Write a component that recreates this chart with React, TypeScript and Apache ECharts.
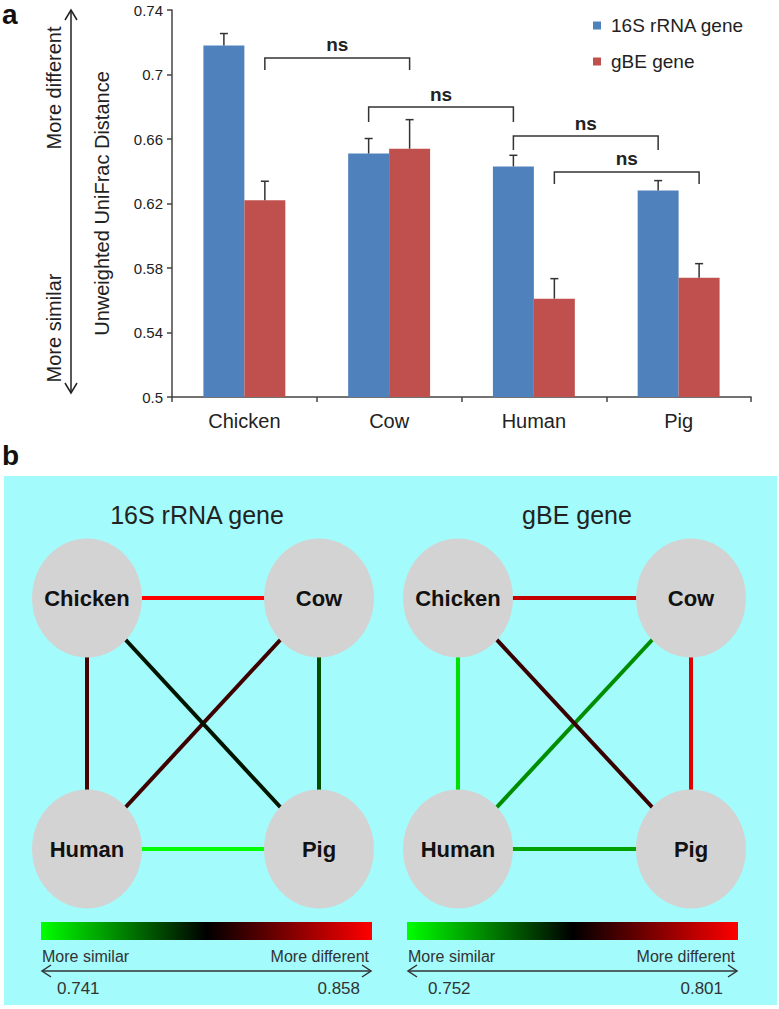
import React, { useEffect, useRef } from "react";
import * as echarts from "echarts";

// ---------- Panel a data ----------
const categories = ["Chicken", "Cow", "Human", "Pig"];
const seriesNames = ["16S rRNA gene", "gBE gene"];
const values16S = [0.718, 0.651, 0.643, 0.628];
const errors16S = [0.0074, 0.0093, 0.0069, 0.0062];
const valuesGBE = [0.622, 0.654, 0.561, 0.574];
const errorsGBE = [0.0118, 0.018, 0.0124, 0.0087];
const yMin = 0.5;
const yMax = 0.74;
const yInterval = 0.04;

// significance brackets: category / series of each end, top, leg bottom, label y
const bracketFromCat = [0, 1, 2, 2];
const bracketFromSeries = [1, 0, 0, 1];
const bracketToCat = [1, 2, 3, 3];
const bracketToSeries = [1, 0, 0, 1];
const bracketTop = [0.7102, 0.6798, 0.6619, 0.6395];
const bracketLeg = [0.7028, 0.6705, 0.6532, 0.6321];
const bracketLabelY = [0.7183, 0.6873, 0.6699, 0.6476];
const bracketLabels = ["ns", "ns", "ns", "ns"];

// ---------- Panel b data ----------
const nodeNames = ["Chicken", "Cow", "Human", "Pig"];
const edgeSources = ["Chicken", "Human", "Chicken", "Cow", "Chicken", "Cow"];
const edgeTargets = ["Cow", "Pig", "Human", "Human", "Pig", "Pig"];
const dist16S = [0.858, 0.741, 0.816, 0.814, 0.795, 0.782];
const distGBE = [0.795, 0.761, 0.755, 0.763, 0.782, 0.798];
const range16S = [0.741, 0.858];
const rangeGBE = [0.752, 0.801];
const rangeLabels16S = ["0.741", "0.858"];
const rangeLabelsGBE = ["0.752", "0.801"];

const FONT = "Liberation Sans, Arial, sans-serif";
const BLUE = "#4F81BD";
const RED = "#C0504D";
const gradientStops = ["#00ff00", "#000000", "#ff0000"];

const BAR_FRAC = 0.283;

function edgeColor(v: number, range: number[]) {
  const t = Math.max(0, Math.min(1, (v - range[0]) / (range[1] - range[0])));
  return echarts.color.lerp(t, gradientStops) as string;
}

// node layout (grid position within each network panel)
const nodeCol = [0, 1, 0, 1];
const nodeRow = [0, 0, 1, 1];

function networkSeries(
  left: number,
  top: number,
  w: number,
  h: number,
  dists: number[],
  range: number[]
) {
  const data = nodeNames.map((n, i) => ({ name: n, x: nodeCol[i] * w, y: nodeRow[i] * h }));
  const edges = {
    type: "graph",
    layout: "none",
    left,
    top,
    width: w,
    height: h,
    silent: true,
    z: 3,
    symbolSize: 1,
    itemStyle: { opacity: 0 },
    label: { show: false },
    emphasis: { disabled: true },
    data,
    links: edgeSources.map((s, i) => ({
      source: s,
      target: edgeTargets[i],
      lineStyle: { color: edgeColor(dists[i], range), width: 4, opacity: 1, curveness: 0 },
    })),
  };
  const nodes = {
    type: "graph",
    layout: "none",
    left,
    top,
    width: w,
    height: h,
    silent: true,
    z: 4,
    symbol: "circle",
    symbolSize: [110, 119],
    itemStyle: { color: "#d3d3d3" },
    label: {
      show: true,
      position: "inside",
      fontFamily: FONT,
      fontWeight: "bold",
      fontSize: 22,
      color: "#111",
    },
    emphasis: { disabled: true },
    data,
    links: [],
  };
  return [edges, nodes];
}

function legendBlock(x0: number, x1: number, labels: string[], numLeftX: number, numRightX: number) {
  const els: any[] = [];
  els.push({
    type: "rect",
    shape: { x: x0, y: 922, width: x1 - x0, height: 18 },
    style: {
      fill: new echarts.graphic.LinearGradient(0, 0, 1, 0, [
        { offset: 0, color: gradientStops[0] },
        { offset: 0.5, color: gradientStops[1] },
        { offset: 1, color: gradientStops[2] },
      ]),
    },
  });
  els.push({
    type: "text",
    x: x0 + 1,
    y: 956,
    style: { text: "More similar", font: `16px ${FONT}`, fill: "#333", textAlign: "left", textVerticalAlign: "middle" },
  });
  els.push({
    type: "text",
    x: x1 - 3,
    y: 956,
    style: { text: "More different", font: `16px ${FONT}`, fill: "#333", textAlign: "right", textVerticalAlign: "middle" },
  });
  els.push({
    type: "line",
    shape: { x1: x0 + 1, y1: 971, x2: x1 - 1, y2: 971 },
    style: { stroke: "#333", lineWidth: 1.5 },
  });
  els.push({
    type: "polyline",
    shape: { points: [[x0 + 10, 965], [x0 + 1, 971], [x0 + 10, 977]] },
    style: { stroke: "#333", lineWidth: 1.5, fill: null },
  });
  els.push({
    type: "polyline",
    shape: { points: [[x1 - 10, 965], [x1 - 1, 971], [x1 - 10, 977]] },
    style: { stroke: "#333", lineWidth: 1.5, fill: null },
  });
  els.push({
    type: "text",
    x: numLeftX,
    y: 988,
    style: { text: labels[0], font: `17px ${FONT}`, fill: "#333", textAlign: "left", textVerticalAlign: "middle" },
  });
  els.push({
    type: "text",
    x: numRightX,
    y: 988,
    style: { text: labels[1], font: `17px ${FONT}`, fill: "#333", textAlign: "right", textVerticalAlign: "middle" },
  });
  return els;
}

function errorSeries(vals: number[], errs: number[], sIdx: number) {
  return {
    type: "custom",
    xAxisIndex: 0,
    yAxisIndex: 0,
    z: 5,
    silent: true,
    data: vals.map((v, i) => [i, v, errs[i]]),
    encode: { x: 0, y: 1 },
    renderItem: (params: any, api: any) => {
      const i = api.value(0);
      const v = api.value(1);
      const e = api.value(2);
      const band = api.size([1, 0])[0];
      const off = (sIdx === 0 ? -1 : 1) * band * BAR_FRAC * 0.5;
      const p0 = api.coord([i, v]);
      const p1 = api.coord([i, v + e]);
      const x = p0[0] + off;
      return {
        type: "group",
        children: [
          { type: "line", shape: { x1: x, y1: p0[1], x2: x, y2: p1[1] }, style: { stroke: "#333", lineWidth: 1.5 } },
          { type: "line", shape: { x1: x - 4, y1: p1[1], x2: x + 4, y2: p1[1] }, style: { stroke: "#333", lineWidth: 1.5 } },
        ],
      };
    },
  };
}

const option: any = {
  animation: false,
  backgroundColor: "#ffffff",
  textStyle: { fontFamily: FONT },
  grid: { left: 172, top: 10, width: 579, height: 387, containLabel: false },
  legend: {
    orient: "vertical",
    left: 593,
    top: 16,
    padding: 0,
    itemWidth: 8,
    itemHeight: 8,
    itemGap: 17,
    icon: "rect",
    data: seriesNames,
    textStyle: { fontFamily: FONT, fontSize: 19, color: "#222", padding: [0, 0, 0, 5] },
    selectedMode: false,
  },
  xAxis: {
    type: "category",
    data: categories,
    boundaryGap: true,
    axisLine: { lineStyle: { color: "#444", width: 1.5 } },
    axisTick: { show: true, length: 5, lineStyle: { color: "#444", width: 1.5 } },
    axisLabel: { fontFamily: FONT, fontSize: 20, color: "#222", margin: 14 },
    splitLine: { show: false },
  },
  yAxis: {
    type: "value",
    min: yMin,
    max: yMax,
    interval: yInterval,
    name: "Unweighted UniFrac Distance",
    nameLocation: "middle",
    nameGap: 60,
    nameTextStyle: { fontFamily: FONT, fontSize: 20, color: "#222" },
    axisLine: { show: true, lineStyle: { color: "#444", width: 1.5 } },
    axisTick: { show: true, length: 5, lineStyle: { color: "#444", width: 1.5 } },
    axisLabel: {
      fontFamily: FONT,
      fontSize: 15,
      color: "#222",
      margin: 9,
      formatter: (v: number) => String(Math.round(v * 100) / 100),
    },
    splitLine: { show: false },
  },
  series: [
    {
      name: seriesNames[0],
      type: "bar",
      data: values16S,
      barWidth: `${BAR_FRAC * 100}%`,
      barGap: "0%",
      itemStyle: { color: BLUE },
      silent: true,
    },
    {
      name: seriesNames[1],
      type: "bar",
      data: valuesGBE,
      barWidth: `${BAR_FRAC * 100}%`,
      barGap: "0%",
      itemStyle: { color: RED },
      silent: true,
    },
    errorSeries(values16S, errors16S, 0),
    errorSeries(valuesGBE, errorsGBE, 1),
    {
      type: "custom",
      z: 6,
      silent: true,
      data: bracketTop.map((t, i) => [bracketFromCat[i], t]),
      encode: { x: 0, y: 1 },
      renderItem: (params: any, api: any) => {
        const k = params.dataIndex;
        const band = api.size([1, 0])[0];
        const half = band * BAR_FRAC * 0.5;
        const xa = api.coord([bracketFromCat[k], bracketTop[k]])[0] + (bracketFromSeries[k] === 0 ? -half : half);
        const xb = api.coord([bracketToCat[k], bracketTop[k]])[0] + (bracketToSeries[k] === 0 ? -half : half);
        const yt = api.coord([0, bracketTop[k]])[1];
        const yl = api.coord([0, bracketLeg[k]])[1];
        const ylab = api.coord([0, bracketLabelY[k]])[1];
        return {
          type: "group",
          children: [
            {
              type: "polyline",
              shape: { points: [[xa, yl], [xa, yt], [xb, yt], [xb, yl]] },
              style: { stroke: "#333", lineWidth: 1.5, fill: null },
            },
            {
              type: "text",
              x: (xa + xb) / 2,
              y: ylab,
              style: {
                text: bracketLabels[k],
                font: `bold 19px ${FONT}`,
                fill: "#222",
                textAlign: "center",
                textVerticalAlign: "middle",
              },
            },
          ],
        };
      },
    },
    ...networkSeries(87, 598, 232, 251, dist16S, range16S),
    ...networkSeries(458, 598, 233, 251, distGBE, rangeGBE),
  ],
  graphic: [
    // panel b background
    { type: "rect", z: -10, shape: { x: 4, y: 476, width: 773, height: 529 }, style: { fill: "#a3fbfb" } },
    // panel labels
    { type: "text", x: 2, y: 14, style: { text: "a", font: `bold 28px ${FONT}`, fill: "#111", textAlign: "left", textVerticalAlign: "middle" } },
    { type: "text", x: 2, y: 455, style: { text: "b", font: `bold 28px ${FONT}`, fill: "#111", textAlign: "left", textVerticalAlign: "middle" } },
    // vertical double arrow
    { type: "line", shape: { x1: 71, y1: 10, x2: 71, y2: 393 }, style: { stroke: "#222", lineWidth: 1.5 } },
    { type: "polyline", shape: { points: [[65, 20], [71, 10], [77, 20]] }, style: { stroke: "#222", lineWidth: 1.5, fill: null } },
    { type: "polyline", shape: { points: [[65, 383], [71, 393], [77, 383]] }, style: { stroke: "#222", lineWidth: 1.5, fill: null } },
    {
      type: "text",
      x: 54,
      y: 88,
      rotation: Math.PI / 2,
      style: { text: "More different", font: `20px ${FONT}`, fill: "#222", textAlign: "center", textVerticalAlign: "middle" },
    },
    {
      type: "text",
      x: 54,
      y: 328,
      rotation: Math.PI / 2,
      style: { text: "More similar", font: `20px ${FONT}`, fill: "#222", textAlign: "center", textVerticalAlign: "middle" },
    },
    // panel b titles
    { type: "text", x: 197, y: 515, style: { text: "16S rRNA gene", font: `25px ${FONT}`, fill: "#222", textAlign: "center", textVerticalAlign: "middle" } },
    { type: "text", x: 577, y: 515, style: { text: "gBE gene", font: `25px ${FONT}`, fill: "#222", textAlign: "center", textVerticalAlign: "middle" } },
    ...legendBlock(41, 372, rangeLabels16S, 57, 360),
    ...legendBlock(407, 738, rangeLabelsGBE, 428, 723),
  ],
};

export default function App() {
  const ref = useRef<HTMLDivElement>(null);
  useEffect(() => {
    const chart = echarts.init(ref.current!, null, { renderer: "svg" });
    chart.setOption(option);
    return () => chart.dispose();
  }, []);
  return (
    <div
      ref={ref}
      style={{ position: "absolute", left: 0, top: 0, width: 779, height: 1009 }}
    />
  );
}
